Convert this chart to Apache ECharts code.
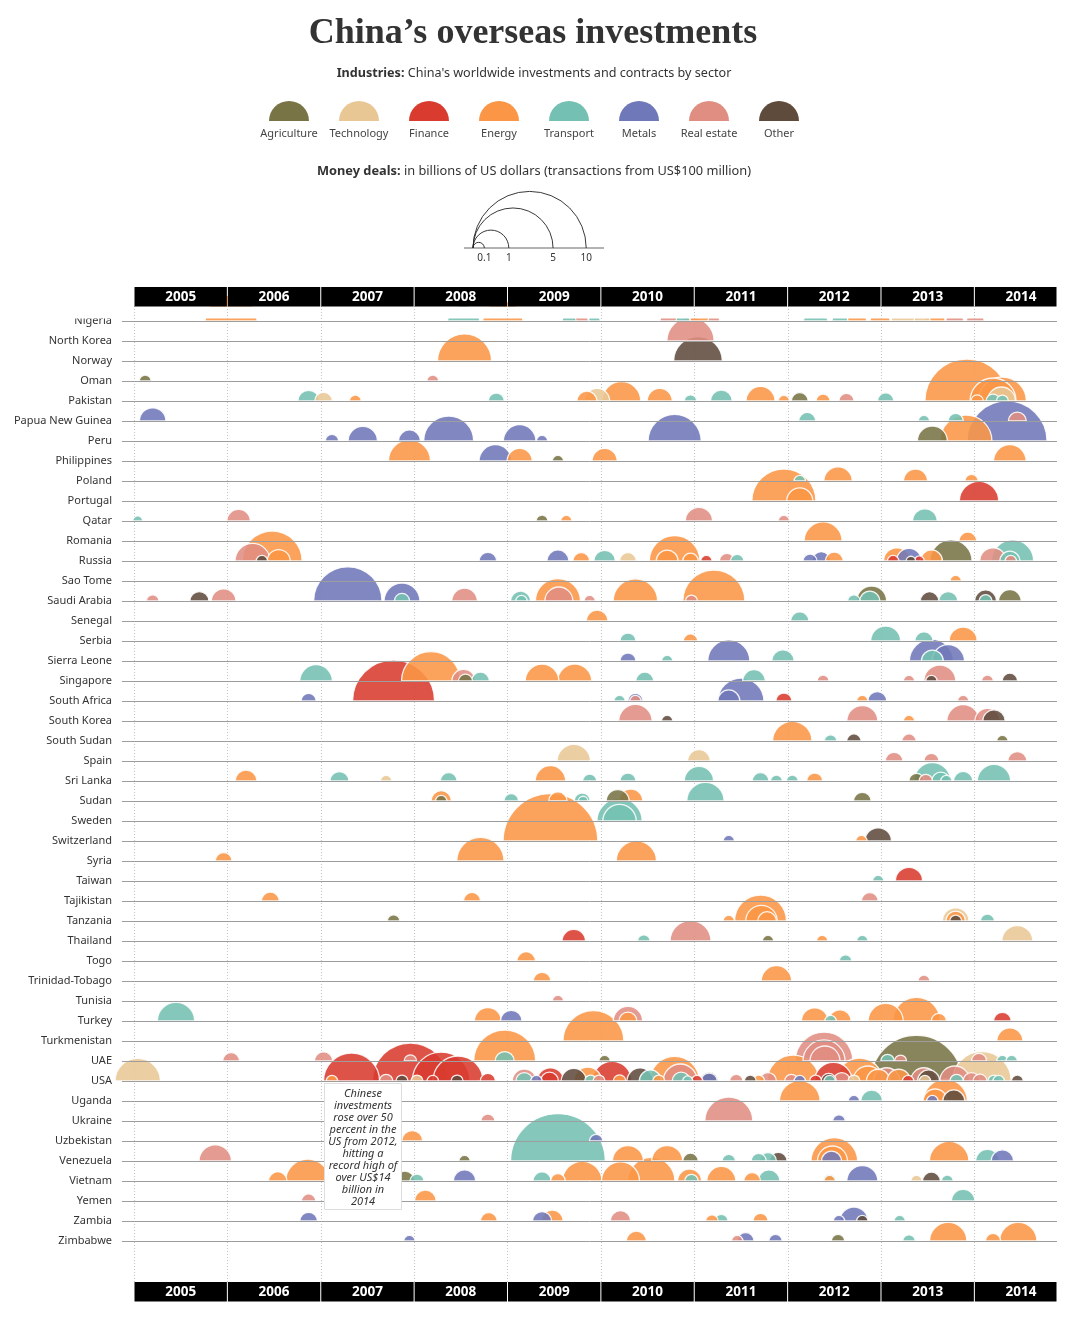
<!DOCTYPE html>
<html><head><meta charset="utf-8">
<script src="https://cdn.jsdelivr.net/npm/echarts/dist/echarts.min.js"></script>
<style>html,body{margin:0;padding:0;background:#fff}#c{width:1069px;height:1317px}</style>
</head><body><div id="c"></div>
<script>
const countries = ['Nigeria','North Korea','Norway','Oman','Pakistan','Papua New Guinea','Peru','Philippines','Poland','Portugal','Qatar','Romania','Russia','Sao Tome','Saudi Arabia','Senegal','Serbia','Sierra Leone','Singapore','South Africa','South Korea','South Sudan','Spain','Sri Lanka','Sudan','Sweden','Switzerland','Syria','Taiwan','Tajikistan','Tanzania','Thailand','Togo','Trinidad-Tobago','Tunisia','Turkey','Turkmenistan','UAE','USA','Uganda','Ukraine','Uzbekistan','Venezuela','Vietnam','Yemen','Zambia','Zimbabwe'];
const years = [2005,2006,2007,2008,2009,2010,2011,2012,2013,2014];
const sectorNames = ['Agriculture','Technology','Finance','Energy','Transport','Metals','Real estate','Other'];
const sectorColors = ['#787445','#e8c795','#d93b2f','#fa9646','#74c0b2','#6f78b8','#e08d82','#5e4b3c'];
const sizeLegendValues = [0.1, 1, 5, 10];

// [country, time (fractional year), value in US$ billions]
const agriculture = [
 ['Oman',2005.12,0.11],['Philippines',2009.54,0.1],['Qatar',2009.37,0.11],['Russia',2013.75,1.38],
 ['Saudi Arabia',2012.9,0.7],['Saudi Arabia',2014.38,0.4],['Peru',2013.55,0.7],['Pakistan',2012.13,0.22],
 ['Singapore',2008.55,0.15],['Sudan',2008.29,0.1],['Sudan',2010.18,0.41],['Sudan',2012.8,0.24],
 ['South Sudan',2014.3,0.1],['Sri Lanka',2013.38,0.18],['Tanzania',2007.78,0.12],['Thailand',2011.79,0.1],
 ['UAE',2010.04,0.1],['USA',2013.38,6.5],['Venezuela',2008.54,0.1],['Venezuela',2010.96,0.19],
 ['Vietnam',2007.9,0.31],['Zimbabwe',2012.54,0.14]
];
const technology = [
 ['Pakistan',2007.03,0.24],['Pakistan',2009.96,0.49],['Pakistan',2014.29,0.61],['Russia',2010.29,0.22],
 ['Spain',2009.71,0.87],['Spain',2011.05,0.4],['Sri Lanka',2007.7,0.1],['Tanzania',2013.8,0.55],
 ['Thailand',2014.46,0.75],['USA',2005.04,1.6],['USA',2008.03,0.11],['USA',2012.71,0.11],
 ['USA',2013.47,0.1],['USA',2014.08,2.7],['Vietnam',2013.38,0.1],['Nigeria',2013.26,0.61],['Nigeria',2013.44,0.2]
];
const finance = [
 ['South Africa',2007.78,5.25],['Portugal',2014.05,1.21],['Russia',2011.13,0.1],['Russia',2013.13,0.1],
 ['Russia',2013.41,0.08],['South Africa',2011.96,0.2],['Taiwan',2013.3,0.58],['Thailand',2009.71,0.43],
 ['Turkey',2014.3,0.24],['USA',2007.33,2.45],['USA',2007.96,4.5],['USA',2008.29,2.6],['USA',2008.47,1.95],
 ['USA',2008.79,0.18],['USA',2008.2,0.1],['USA',2009.46,0.55],['USA',2009.45,0.25],['USA',2010.12,1.2],
 ['USA',2011.03,0.1],['USA',2012.3,0.11],['USA',2012.49,1.1],['USA',2013.29,0.1]
];
const energy = [
 ['Nigeria',2006.04,2.1],['Nigeria',2008.95,1.25],['Nigeria',2011.06,0.31],['Nigeria',2012.74,0.31],
 ['Nigeria',2012.99,0.31],['Nigeria',2013.58,0.31],
 ['Norway',2008.54,2.28],
 ['Pakistan',2007.37,0.11],['Pakistan',2009.85,0.31],['Pakistan',2010.22,1.17],['Pakistan',2010.63,0.49],
 ['Pakistan',2011.71,0.66],['Pakistan',2011.96,0.1],['Pakistan',2012.38,0.15],['Pakistan',2013.92,5.5],
 ['Pakistan',2014.2,1.65],['Pakistan',2014.3,1.8],['Pakistan',2014.03,0.12],
 ['Peru',2013.91,2.1],
 ['Philippines',2007.95,1.38],['Philippines',2009.13,0.49],['Philippines',2010.04,0.49],['Philippines',2014.38,0.83],
 ['Poland',2012.54,0.63],['Poland',2013.37,0.45],['Poland',2013.97,0.14],
 ['Portugal',2011.96,3.2],['Portugal',2012.13,0.53],
 ['Qatar',2009.63,0.1],
 ['Romania',2012.38,1.13],['Romania',2013.93,0.25],
 ['Russia',2006.48,2.8],['Russia',2006.55,0.41],['Russia',2009.79,0.22],['Russia',2010.79,2.0],
 ['Russia',2010.71,0.37],['Russia',2010.96,0.19],['Russia',2012.5,0.25],['Russia',2013.17,0.55],['Russia',2013.54,0.38],
 ['Sao Tome',2013.8,0.1],
 ['Saudi Arabia',2009.54,1.58],['Saudi Arabia',2010.37,1.54],['Saudi Arabia',2011.21,3.0],
 ['Senegal',2009.96,0.37],['Serbia',2010.96,0.16],['Serbia',2013.88,0.61],
 ['Singapore',2008.18,2.7],['Singapore',2009.37,0.88],['Singapore',2009.72,0.9],
 ['South Africa',2012.8,0.1],['South Korea',2013.3,0.1],['South Sudan',2012.05,1.21],
 ['Sri Lanka',2006.2,0.37],['Sri Lanka',2009.46,0.73],['Sri Lanka',2012.29,0.2],
 ['Sudan',2008.29,0.33],['Sudan',2009.54,0.26],['Sudan',2010.32,0.45],
 ['Switzerland',2009.46,7.0],['Switzerland',2012.79,0.1],
 ['Syria',2005.96,0.22],['Syria',2008.71,1.75],['Syria',2010.38,1.27],
 ['Tajikistan',2006.46,0.25],['Tajikistan',2008.62,0.23],
 ['Tanzania',2011.37,0.1],['Tanzania',2011.71,2.1],['Tanzania',2011.72,0.77],['Tanzania',2011.78,0.27],['Tanzania',2013.8,0.3],
 ['Thailand',2012.37,0.1],['Togo',2009.2,0.27],
 ['Trinidad-Tobago',2009.37,0.24],['Trinidad-Tobago',2011.88,0.73],
 ['Turkey',2008.79,0.57],['Turkey',2010.29,0.25],['Turkey',2012.29,0.55],['Turkey',2012.56,0.39],
 ['Turkey',2013.05,0.96],['Turkey',2013.38,1.75],['Turkey',2013.62,0.18],
 ['Turkmenistan',2009.92,2.9],['Turkmenistan',2014.38,0.53],
 ['UAE',2008.97,3.0],
 ['USA',2007.12,0.1],['USA',2009.86,0.6],['USA',2010.2,0.12],['USA',2010.62,0.11],['USA',2010.79,1.9],
 ['USA',2011.69,0.11],['USA',2012.06,2.1],['USA',2012.77,1.65],['USA',2012.86,0.7],['USA',2012.97,0.43],['USA',2013.19,0.43],
 ['Uganda',2012.13,1.29],['Uganda',2013.69,1.5],['Uganda',2013.58,0.45],
 ['Uzbekistan',2007.98,0.34],
 ['Venezuela',2010.29,0.75],['Venezuela',2010.71,0.75],['Venezuela',2012.5,1.7],['Venezuela',2012.48,0.7],['Venezuela',2013.73,1.22],
 ['Vietnam',2006.54,0.27],['Vietnam',2006.86,1.51],['Vietnam',2009.54,0.17],['Vietnam',2009.8,1.22],
 ['Vietnam',2010.21,1.13],['Vietnam',2010.54,1.75],['Vietnam',2010.95,0.45],['Vietnam',2011.29,0.66],
 ['Vietnam',2011.62,0.22],['Vietnam',2012.45,0.1],
 ['Yemen',2008.12,0.37],
 ['Zambia',2008.8,0.22],['Zambia',2009.48,0.37],['Zambia',2011.19,0.12],['Zambia',2011.71,0.18],
 ['Zimbabwe',2010.38,0.31],['Zimbabwe',2013.72,1.09],['Zimbabwe',2014.2,0.18],['Zimbabwe',2014.47,1.09]
];
const transport = [
 ['Nigeria',2008.53,0.8],['Nigeria',2009.66,0.15],['Nigeria',2009.93,0.11],['Nigeria',2010.88,0.15],
 ['Nigeria',2012.3,0.45],['Nigeria',2012.56,0.2],
 ['Pakistan',2006.87,0.36],['Pakistan',2008.88,0.2],['Pakistan',2010.96,0.12],['Pakistan',2011.29,0.37],
 ['Pakistan',2013.05,0.21],['Pakistan',2014.2,0.15],['Pakistan',2014.3,0.11],
 ['Papua New Guinea',2012.21,0.23],['Papua New Guinea',2013.46,0.1],['Papua New Guinea',2013.8,0.18],
 ['Poland',2012.13,0.1],['Qatar',2005.04,0.08],['Qatar',2013.47,0.47],
 ['Russia',2010.04,0.36],['Russia',2011.46,0.14],['Russia',2014.41,1.38],['Russia',2014.38,0.31],
 ['Saudi Arabia',2007.87,0.18],['Saudi Arabia',2009.14,0.31],['Saudi Arabia',2009.15,0.1],
 ['Saudi Arabia',2012.88,0.31],['Saudi Arabia',2012.71,0.12],['Saudi Arabia',2013.72,0.28],['Saudi Arabia',2014.12,0.13],
 ['Senegal',2012.13,0.26],
 ['Serbia',2010.29,0.2],['Serbia',2013.05,0.7],['Serbia',2013.46,0.26],
 ['Sierra Leone',2010.71,0.1],['Sierra Leone',2011.95,0.39],['Sierra Leone',2013.55,0.37],
 ['Singapore',2006.95,0.83],['Singapore',2008.71,0.25],['Singapore',2010.47,0.25],['Singapore',2011.64,0.4],
 ['South Africa',2010.2,0.1],['South Sudan',2012.46,0.12],
 ['Sri Lanka',2007.2,0.28],['Sri Lanka',2008.37,0.22],['Sri Lanka',2009.88,0.15],['Sri Lanka',2010.29,0.2],
 ['Sri Lanka',2011.05,0.67],['Sri Lanka',2011.71,0.22],['Sri Lanka',2011.88,0.11],['Sri Lanka',2012.05,0.11],
 ['Sri Lanka',2013.55,1.05],['Sri Lanka',2013.64,0.25],['Sri Lanka',2013.7,0.1],['Sri Lanka',2013.88,0.29],['Sri Lanka',2014.21,0.87],
 ['Sudan',2009.04,0.17],['Sudan',2009.8,0.2],['Sudan',2009.81,0.07],['Sudan',2011.12,1.09],
 ['Sweden',2010.2,1.6],['Sweden',2010.2,0.87],
 ['Taiwan',2012.97,0.1],['Tanzania',2014.14,0.15],['Thailand',2010.46,0.12],['Thailand',2012.8,0.1],
 ['Togo',2012.62,0.12],['Turkey',2005.45,1.09],['Turkey',2012.46,0.1],
 ['UAE',2008.97,0.28],['UAE',2013.07,0.14],['UAE',2014.3,0.1],['UAE',2014.4,0.1],
 ['USA',2009.18,0.22],['USA',2009.89,0.11],['USA',2010.53,0.38],['USA',2010.86,0.25],['USA',2010.93,0.08],
 ['USA',2012.45,0.1],['USA',2013.81,0.14],['USA',2014.21,0.11],['USA',2014.26,0.1],
 ['Uganda',2012.9,0.37],
 ['Venezuela',2009.54,7.0],['Venezuela',2011.37,0.14],['Venezuela',2011.69,0.18],['Venezuela',2011.79,0.22],['Venezuela',2014.14,0.43],
 ['Vietnam',2008.03,0.15],['Vietnam',2009.37,0.26],['Vietnam',2010.97,0.14],['Vietnam',2011.8,0.38],
 ['Vietnam',2012.45,0.14],['Vietnam',2013.71,0.11],
 ['Yemen',2013.88,0.43],['Zambia',2011.29,0.14],['Zambia',2013.2,0.1],['Zimbabwe',2013.3,0.12]
];
const metals = [
 ['Papua New Guinea',2005.2,0.55],
 ['Peru',2007.12,0.14],['Peru',2007.45,0.67],['Peru',2007.95,0.38],['Peru',2008.37,1.95],['Peru',2009.13,0.83],
 ['Peru',2009.37,0.1],['Peru',2010.79,2.2],['Peru',2014.35,5.0],
 ['Philippines',2008.87,0.83],
 ['Russia',2008.79,0.24],['Russia',2009.54,0.38],['Russia',2012.24,0.15],['Russia',2012.36,0.27],['Russia',2013.3,0.49],
 ['Saudi Arabia',2007.29,3.65],['Saudi Arabia',2007.87,1.0],
 ['Sierra Leone',2010.29,0.2],['Sierra Leone',2011.37,1.38],['Sierra Leone',2013.54,1.51],['Sierra Leone',2013.72,0.83],
 ['South Africa',2006.87,0.18],['South Africa',2010.37,0.18],['South Africa',2011.37,0.38],['South Africa',2011.5,1.65],['South Africa',2012.96,0.28],
 ['Switzerland',2011.37,0.1],['Turkey',2009.04,0.36],
 ['USA',2009.31,0.1],['USA',2011.16,0.2],['USA',2012.13,0.1],
 ['Uganda',2012.71,0.1],['Uganda',2013.55,0.1],['Ukraine',2012.55,0.12],['Uzbekistan',2009.95,0.14],
 ['Venezuela',2012.47,0.31],['Venezuela',2014.3,0.39],
 ['Vietnam',2008.54,0.39],['Vietnam',2012.8,0.75],
 ['Zambia',2006.87,0.24],['Zambia',2009.37,0.28],['Zambia',2012.71,0.61],['Zambia',2012.55,0.1],
 ['Zimbabwe',2007.95,0.1],['Zimbabwe',2011.55,0.22],['Zimbabwe',2011.87,0.14]
];
const realEstate = [
 ['Nigeria',2009.78,0.2],['Nigeria',2010.74,0.31],['Nigeria',2011.21,0.11],['Nigeria',2013.79,0.25],['Nigeria',2014.01,0.25],
 ['North Korea',2010.96,1.75],['Oman',2008.2,0.11],['Pakistan',2012.63,0.18],['Papua New Guinea',2014.46,0.25],
 ['Qatar',2006.12,0.43],['Qatar',2011.05,0.58],['Qatar',2011.96,0.1],
 ['Russia',2006.27,0.96],['Russia',2011.35,0.18],['Russia',2014.2,0.55],['Russia',2014.39,0.1],
 ['Saudi Arabia',2005.2,0.12],['Saudi Arabia',2005.96,0.47],['Saudi Arabia',2008.54,0.51],['Saudi Arabia',2009.55,0.61],
 ['Saudi Arabia',2009.88,0.1],['Saudi Arabia',2010.97,0.11],
 ['Singapore',2008.53,0.43],['Singapore',2012.38,0.11],['Singapore',2013.3,0.1],['Singapore',2013.63,0.8],['Singapore',2014.14,0.11],
 ['South Africa',2010.37,0.1],['South Africa',2013.88,0.1],
 ['South Korea',2010.37,0.87],['South Korea',2012.8,0.75],['South Korea',2013.88,0.83],['South Korea',2014.14,0.49],
 ['South Sudan',2013.3,0.16],['Spain',2013.14,0.24],['Spain',2013.54,0.18],['Spain',2014.46,0.28],
 ['Sri Lanka',2013.48,0.14],['Tajikistan',2012.88,0.22],['Thailand',2010.96,1.31],['Trinidad-Tobago',2013.46,0.11],
 ['Tunisia',2009.54,0.1],['Turkey',2010.29,0.67],
 ['UAE',2006.04,0.22],['UAE',2007.03,0.26],['UAE',2007.96,0.12],['UAE',2012.39,2.6],['UAE',2012.39,1.38],
 ['UAE',2012.4,0.7],['UAE',2013.21,0.11],['UAE',2014.05,0.18],
 ['USA',2007.7,0.14],['USA',2009.18,0.45],['USA',2009.98,0.11],['USA',2010.85,0.9],['USA',2011.45,0.14],
 ['USA',2011.79,0.22],['USA',2012.04,0.14],['USA',2012.58,0.22],['USA',2013.06,0.55],['USA',2013.46,0.55],
 ['USA',2013.79,0.7],['USA',2013.97,0.22],['USA',2014.06,0.15],
 ['Ukraine',2008.79,0.15],['Ukraine',2011.37,1.8],['Venezuela',2005.87,0.82],['Yemen',2006.87,0.16],
 ['Zambia',2010.21,0.33],['Zimbabwe',2011.46,0.1]
];
const other = [
 ['Norway',2011.04,1.85],['Russia',2006.37,0.1],['Russia',2013.32,0.07],
 ['Saudi Arabia',2005.7,0.28],['Saudi Arabia',2013.52,0.27],['Saudi Arabia',2014.12,0.38],
 ['Singapore',2013.54,0.1],['Singapore',2014.38,0.19],['South Korea',2010.71,0.1],['South Korea',2014.21,0.39],
 ['South Sudan',2012.71,0.16],['Switzerland',2012.97,0.55],['Tanzania',2013.8,0.11],
 ['USA',2007.87,0.11],['USA',2008.46,0.11],['USA',2009.71,0.49],['USA',2010.42,0.53],['USA',2011.6,0.11],
 ['USA',2012.44,0.18],['USA',2013.51,0.38],['USA',2014.46,0.11],['USA',2011.16,0.25],
 ['Uganda',2013.78,0.38],['Venezuela',2011.9,0.24],['Vietnam',2013.54,0.25],['Zambia',2012.8,0.1]
];
const annotationLines = ['Chinese','investments','rose over 50','percent in the','US from 2012,','hitting a','record high of','over US$14','billion in','2014'];

// ---------- build ----------
const K = 17.9; // px radius for sqrt(value) (area-proportional)
const radiusOf = v => K * Math.sqrt(v);
const sectorArrays = [agriculture, technology, finance, energy, transport, metals, realEstate, other];
const deals = [];
sectorArrays.forEach((arr, s) => arr.forEach(d => {
  const row = countries.indexOf(d[0]);
  if (row < 0) console.warn('unknown', d[0]);
  deals.push([d[1], row, d[2], s]);
}));
deals.sort((a, b) => b[2] - a[2]);

const PXY = 93.37;
const xMin = 2005 - 12 / PXY, xMax = 2014.885;
const chart = echarts.init(document.getElementById('c'), null, {renderer: 'canvas'});
const SANS = '"Noto Sans", "Open Sans", sans-serif';

const graphics = [];
graphics.push({type:'text', z:50, style:{text:'China’s overseas investments', x:533, y:34, align:'center', verticalAlign:'middle', font:'bold 36px "Liberation Serif", serif', fill:'#333'}});
graphics.push({type:'text', z:50, style:{text:'{b|Industries:} China\'s worldwide investments and contracts by sector', x:534, y:73, align:'center', verticalAlign:'middle', font:'12.6px '+SANS, fill:'#333', rich:{b:{font:'bold 12.6px '+SANS, fill:'#333'}}}});
sectorNames.forEach((n, i) => {
  const cx = 289 + i * 70;
  graphics.push({type:'sector', z:50, shape:{cx:cx, cy:121, r0:0, r:20, startAngle:Math.PI, endAngle:2*Math.PI, clockwise:true}, style:{fill:sectorColors[i]}});
  graphics.push({type:'text', z:50, style:{text:n, x:cx, y:134, align:'center', verticalAlign:'middle', font:'11px '+SANS, fill:'#444'}});
});
graphics.push({type:'text', z:50, style:{text:'{b|Money deals:} in billions of US dollars (transactions from US$100 million)', x:534, y:171, align:'center', verticalAlign:'middle', font:'12.8px '+SANS, fill:'#333', rich:{b:{font:'bold 12.8px '+SANS, fill:'#333'}}}});
graphics.push({type:'line', z:50, shape:{x1:464, y1:248, x2:604, y2:248}, style:{stroke:'#666', lineWidth:1}});
sizeLegendValues.forEach(v => {
  const r = radiusOf(v);
  graphics.push({type:'arc', z:50, shape:{cx:473 + r, cy:248, r:r, startAngle:Math.PI, endAngle:2*Math.PI, clockwise:true}, style:{stroke:'#222', fill:null, lineWidth:0.9}});
  graphics.push({type:'text', z:50, style:{text:String(v), x:473 + 2*r, y:258, align:'center', verticalAlign:'middle', font:'10px '+SANS, fill:'#333'}});
});
// clip band just under the top year bar
graphics.push({type:'rect', z:10, shape:{x:0, y:306.5, width:1069, height:12}, style:{fill:'#fff'}});
// annotation
graphics.push({type:'rect', z:15, shape:{x:324.5, y:1083.5, width:77, height:126}, style:{fill:'#fff', stroke:'#dedede', lineWidth:1}});
annotationLines.forEach((t, i) => {
  graphics.push({type:'text', z:16, style:{text:t, x:363, y:1093.5 + i * 12, align:'center', verticalAlign:'middle', font:'italic 11px '+SANS, fill:'#333'}});
});

const vLine = (y0, y1) => (params, api) => {
  const x = Math.round(api.coord([api.value(0), 0])[0]) + 0.5;
  return {type:'line', shape:{x1:x, y1:y0, x2:x, y2:y1}, style:{stroke:'#c4c4c4', lineWidth:1, lineDash:[1,2]}};
};

chart.setOption({
  animation: false,
  backgroundColor: '#fff',
  grid: {left:122, right:12, top:321, bottom:76, containLabel:false},
  xAxis: {type:'value', min:xMin, max:xMax, show:false},
  yAxis: {type:'value', inverse:true, min:0, max:46, interval:1, z:3,
    axisLine:{show:false}, axisTick:{show:false},
    splitLine:{show:true, lineStyle:{color:'#9d9d9d', width:1}},
    axisLabel:{formatter: v => countries[v] || '', color:'#333', fontSize:11, fontFamily:SANS, margin:10, padding:[0,0,2,0]}},
  graphic: {elements: graphics},
  series: [
    {type:'custom', z:1, clip:false, silent:true, data:years.map(y => [y]), renderItem: vLine(306, 1282)},
    {type:'custom', z:2, clip:false, silent:true, data:deals,
      renderItem: (params, api) => {
        const p = api.coord([api.value(0), api.value(1)]);
        const r = radiusOf(api.value(2));
        return {type:'sector', shape:{cx:p[0], cy:p[1], r0:0, r:r, startAngle:Math.PI, endAngle:2*Math.PI, clockwise:true},
          style:{fill:sectorColors[api.value(3)], stroke:'#fff', lineWidth:1.3, opacity:0.88}};
      }},
    {type:'custom', z:12, clip:false, silent:true, data:years.map(y => [y]), renderItem: vLine(306, 319)},
    {type:'custom', z:20, clip:false, silent:true, data:years.map(y => [y]),
      renderItem: (params, api) => {
        const y = api.value(0);
        const x0 = api.coord([y, 0])[0];
        const x1 = api.coord([Math.min(y + 1, xMax), 0])[0];
        const xc = api.coord([y + 0.5, 0])[0];
        const kids = [];
        [287, 1282].forEach(top => {
          kids.push({type:'rect', shape:{x:x0 + 0.5, y:top, width:x1 - x0 - 1, height:19.5}, style:{fill:'#000'}});
          kids.push({type:'text', style:{text:String(y), x:xc, y:top + 10, align:'center', verticalAlign:'middle', font:'bold 13.5px '+SANS, fill:'#fff'}});
        });
        return {type:'group', children:kids};
      }}
  ]
});
</script></body></html>
